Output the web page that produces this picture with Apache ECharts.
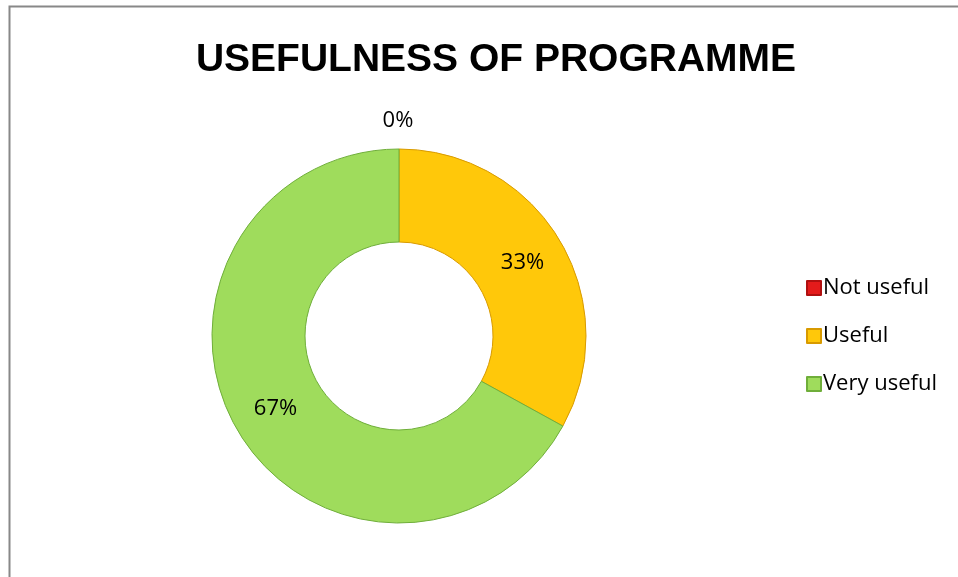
<!DOCTYPE html>
<html><head><meta charset="utf-8">
<script src="https://cdn.jsdelivr.net/npm/echarts@6/dist/echarts.min.js"></script>
<style>html,body{margin:0;padding:0;background:#fff}#c{width:958px;height:577px}</style>
</head><body><div id="c"></div>
<script>
const titleText = 'USEFULNESS OF PROGRAMME';
const categories = ['Not useful', 'Useful', 'Very useful'];
const values = [0, 33, 67];
const colors = ['#E41B1B', '#FFC80A', '#9FDC5C'];
const borders = ['#B01010', '#D89A00', '#6FAE3A'];

const chart = echarts.init(document.getElementById('c'));
chart.setOption({
  animation: false,
  graphic: [{type: 'rect', shape: {x: 9.5, y: 6.5, width: 960, height: 600}, style: {fill: 'none', stroke: '#888', lineWidth: 2}}],
  title: {text: titleText, left: 491, textAlign: 'center', top: 36,
    textStyle: {fontFamily: 'Liberation Sans', fontWeight: 'bold', fontSize: 39, color: '#000'}},
  legend: {orient: 'vertical', left: 801, top: 272, itemWidth: 14, itemHeight: 14, itemGap: 26, icon: 'rect',
    data: categories, textStyle: {fontFamily: 'Open Sans', fontSize: 22, color: '#000', padding: [0, 0, 0, -3]}},
  series: [{
    type: 'pie', center: [399, 336], radius: [94, 187], startAngle: 90, clockwise: true,
    data: categories.map((n, i) => ({name: n, value: values[i],
      itemStyle: {color: colors[i], borderColor: borders[i], borderWidth: 1},
      label: i === 0 ? {position: 'outside'} : {position: 'inside'},
      labelLine: {show: false, length: 28, length2: 0}})),
    label: {formatter: p => Math.round(p.percent) + '%', fontFamily: 'Open Sans', fontSize: 22, color: '#000'},
    labelLayout: p => (p.dataIndex === 0 ? {align: 'center', dx: 4} : {}),
    emphasis: {disabled: true}
  }]
});
</script></body></html>
